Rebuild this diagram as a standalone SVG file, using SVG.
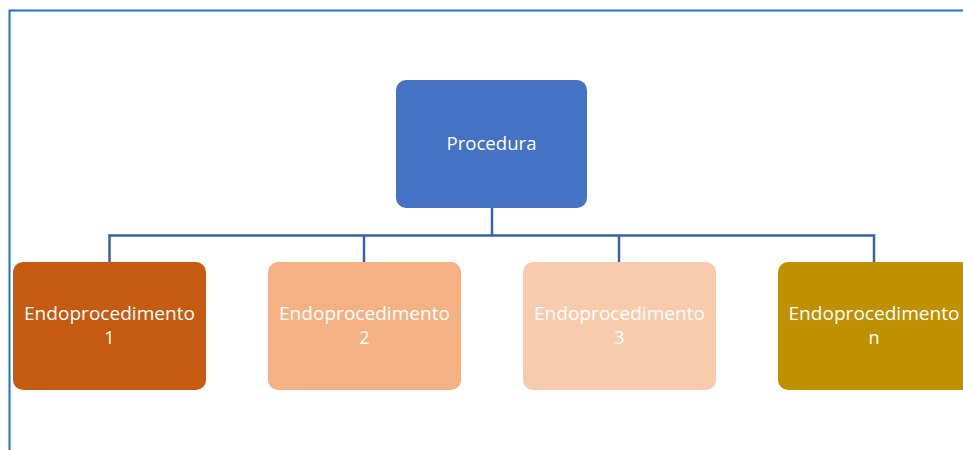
<svg xmlns="http://www.w3.org/2000/svg" width="963" height="450" viewBox="0 0 963 450">
<style>
.t{font-family:"Open Sans","Liberation Sans",sans-serif;font-size:18px;fill:#ffffff;text-anchor:middle}
.c{fill:none;stroke:#3a62a8;stroke-width:2.5}
</style>
<rect width="963" height="450" fill="#ffffff"/>
<path d="M9.5,450 V10.5 H963" fill="none" stroke="#1a75cc" stroke-width="2"/>
<g id="connectors">
<path class="c" d="M492,208 V235.5"/>
<path class="c" d="M109.5,262 V235.5 H874 V262"/>
<path class="c" d="M364,235.5 V262"/>
<path class="c" d="M619,235.5 V262"/>
</g>
<g id="procedura">
<rect x="396" y="80" width="191" height="128" rx="10" fill="#4472c4"/>
<text class="t" x="491.5" y="150" textLength="90" lengthAdjust="spacingAndGlyphs">Procedura</text>
</g>
<g id="endo1">
<rect x="13" y="262" width="193" height="128" rx="10" fill="#c55a11"/>
<text class="t" x="109.5" y="320" textLength="171" lengthAdjust="spacingAndGlyphs">Endoprocedimento</text>
<text class="t" x="109.5" y="344">1</text>
</g>
<g id="endo2">
<rect x="268" y="262" width="193" height="128" rx="10" fill="#f4b183"/>
<text class="t" x="364.5" y="320" textLength="171" lengthAdjust="spacingAndGlyphs">Endoprocedimento</text>
<text class="t" x="364.5" y="344">2</text>
</g>
<g id="endo3">
<rect x="523" y="262" width="193" height="128" rx="10" fill="#f8cbad"/>
<text class="t" x="619.5" y="320" textLength="171" lengthAdjust="spacingAndGlyphs">Endoprocedimento</text>
<text class="t" x="619.5" y="344">3</text>
</g>
<g id="endon">
<rect x="778" y="262" width="193" height="128" rx="10" fill="#bf9000"/>
<text class="t" x="874" y="320" textLength="171" lengthAdjust="spacingAndGlyphs">Endoprocedimento</text>
<text class="t" x="874" y="344">n</text>
</g>
</svg>
